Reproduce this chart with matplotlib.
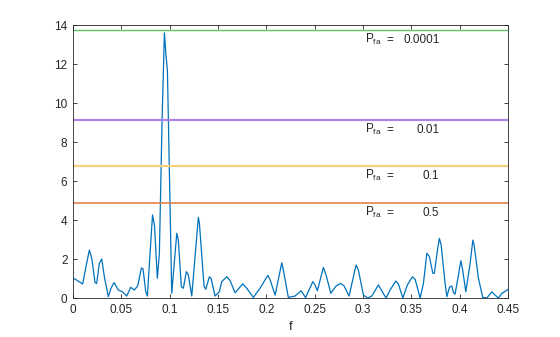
import matplotlib
matplotlib.use("Agg")
import matplotlib.pyplot as plt

plt.rcParams['font.family'] = ['Liberation Sans', 'DejaVu Sans']
plt.rcParams['mathtext.fontset'] = 'custom'
plt.rcParams['mathtext.rm'] = 'Liberation Sans'
plt.rcParams['mathtext.it'] = 'Liberation Sans'

# Periodogram values
freq = [0.0, 0.0021, 0.0100, 0.0131, 0.0169, 0.0193, 0.0228, 0.0245, 0.0272, 0.0297,
        0.0324, 0.0365, 0.0393, 0.0424, 0.0469, 0.0514, 0.0555, 0.0597, 0.0634, 0.0669,
        0.0707, 0.0724, 0.0752, 0.0769, 0.0822, 0.0843, 0.0872, 0.0893, 0.0921, 0.0945,
        0.0962, 0.0976, 0.1021, 0.1073, 0.1089, 0.1120, 0.1141, 0.1172, 0.1193, 0.1228,
        0.1296, 0.1307, 0.1355, 0.1373, 0.1410, 0.1428, 0.1469, 0.1513, 0.1538, 0.1590,
        0.1624, 0.1676, 0.1755, 0.1797, 0.1865, 0.1934, 0.2014, 0.2038, 0.2090, 0.2159,
        0.2175, 0.2227, 0.2296, 0.2359, 0.2405, 0.2480, 0.2503, 0.2527, 0.2589, 0.2617,
        0.2666, 0.2721, 0.2769, 0.2803, 0.2855, 0.2927, 0.2951, 0.3003, 0.3048, 0.3090,
        0.3158, 0.3193, 0.3238, 0.3279, 0.3338, 0.3365, 0.3411, 0.3458, 0.3510, 0.3538,
        0.3590, 0.3624, 0.3659, 0.3686, 0.3721, 0.3737, 0.3769, 0.3789, 0.3807, 0.3848,
        0.3866, 0.3893, 0.3917, 0.3934, 0.3951, 0.3986, 0.4011, 0.4027, 0.4062, 0.4107,
        0.4135, 0.4148, 0.4193, 0.4237, 0.4280, 0.4331, 0.4365, 0.4400, 0.4435, 0.4478,
        0.4500]
power = [1.00, 0.97, 0.72, 1.54, 2.46, 2.05, 0.79, 0.75, 1.78, 2.00,
         1.09, 0.07, 0.50, 0.79, 0.41, 0.31, 0.10, 0.55, 0.41, 0.62,
         1.54, 1.50, 0.32, 0.10, 4.26, 3.70, 1.01, 2.29, 9.13, 13.60,
         12.40, 11.70, 0.24, 3.32, 2.97, 0.58, 0.50, 1.35, 1.18, 0.10,
         4.14, 3.83, 0.60, 0.45, 1.09, 1.00, 0.10, 0.32, 0.84, 1.09,
         0.90, 0.27, 0.72, 0.50, 0.03, 0.50, 1.16, 0.94, 0.15, 1.81,
         1.44, 0.03, 0.10, 0.37, 0.02, 0.84, 0.67, 0.37, 1.57, 1.18,
         0.24, 0.62, 0.75, 0.62, 0.10, 1.69, 1.44, 0.15, 0.00, 0.10,
         0.67, 0.37, 0.00, 0.41, 0.87, 0.72, 0.00, 0.67, 1.09, 0.96,
         0.00, 0.75, 2.29, 2.12, 1.27, 1.27, 2.46, 3.06, 2.72, 0.75,
         0.07, 0.55, 0.62, 0.27, 0.20, 1.18, 1.91, 1.52, 0.32, 1.78,
         2.97, 2.72, 1.01, 0.03, 0.00, 0.32, 0.15, 0.00, 0.24, 0.37,
         0.45]

# False-alarm probabilities and their significance levels
pfa = ['0.0001', '0.01', '0.1', '0.5']
levels = [13.74, 9.13, 6.77, 4.87]
level_colors = ['#64c464', '#b083e6', '#f6cf7c', '#e4804c']
level_widths = [1.0, 1.6, 1.6, 1.2]

xticks = [0, 0.05, 0.1, 0.15, 0.2, 0.25, 0.3, 0.35, 0.4, 0.45]
xtick_labels = ['0', '0.05', '0.1', '0.15', '0.2', '0.25', '0.3', '0.35', '0.4', '0.45']
yticks = [0, 2, 4, 6, 8, 10, 12, 14]

fig = plt.figure(figsize=(5.6, 3.37), dpi=100)
ax = fig.add_axes([0.1304, 0.1157, 0.777, 0.810])

ax.plot(freq, power, color='#0072BD', lw=0.9)

for lev, col, w, p in zip(levels, level_colors, level_widths, pfa):
    ax.axhline(lev, color=col, lw=w)
    ax.text(0.3015, lev - 0.5, r'$\mathregular{P_{fa}}$', fontsize=8.5,
            va='center', ha='left', color='#262626')
    ax.text(0.3240, lev - 0.5, '=', fontsize=8.5, va='center', ha='left', color='#262626')
    ax.text(0.3790, lev - 0.5, p, fontsize=8.5, va='center', ha='right', color='#262626')

ax.set_xlim(0, 0.45)
ax.set_ylim(0, 14)
ax.set_xticks(xticks)
ax.set_xticklabels(xtick_labels)
ax.set_yticks(yticks)
ax.tick_params(direction='in', length=3, width=0.6, labelsize=8.5,
               colors='#262626', top=True, right=True, pad=4)
for s in ax.spines.values():
    s.set_linewidth(0.6)
    s.set_color('#262626')
ax.set_xlabel('f', fontsize=9.5, color='#262626', labelpad=4)

fig.savefig('out.png', dpi=100)
